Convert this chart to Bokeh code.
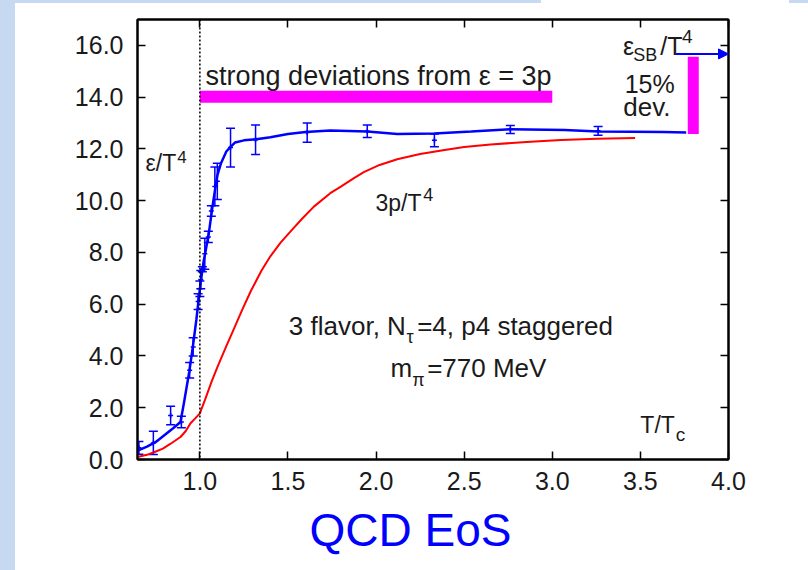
from bokeh.plotting import figure
from bokeh.models import (Range1d, FixedTicker, LinearAxis, PrintfTickFormatter, Whisker,
                          TeeHead, ColumnDataSource, Label, Span, Arrow, NormalHead, Spacer, Title)
from bokeh.layouts import row, column
from bokeh.embed import file_html
from bokeh.resources import INLINE

# ---------------- data ----------------
x_ticks = [1.0, 1.5, 2.0, 2.5, 3.0, 3.5, 4.0]
y_ticks = [0, 2, 4, 6, 8, 10, 12, 14, 16]

# lattice points eps/T^4 with errors
eps_pts_x = [0.654, 0.736, 0.834, 0.895, 0.942, 0.962, 0.990, 1.000, 1.005, 1.014, 1.028,
             1.048, 1.065, 1.085, 1.099, 1.174, 1.316, 1.609, 1.950, 2.331, 2.762, 3.260]
eps_pts_y = [0.45, 0.64, 1.70, 1.45, 3.45, 4.35, 6.10, 6.60, 6.95, 7.35, 7.95,
             8.60, 9.60, 10.55, 10.75, 12.05, 12.35, 12.63, 12.68, 12.33, 12.75, 12.70]
eps_pts_err = [0.25, 0.45, 0.36, 0.22, 0.30, 0.35, 0.30, 0.30, 0.35, 0.10, 0.60,
               0.22, 0.20, 0.75, 0.70, 0.75, 0.57, 0.37, 0.24, 0.25, 0.15, 0.17]

# interpolating curve eps/T^4
eps_curve_x = [0.65, 0.70, 0.75, 0.80, 0.85, 0.89, 0.91, 0.94, 0.96, 0.98, 1.00, 1.02, 1.05,
               1.07, 1.09, 1.10, 1.12, 1.15, 1.17, 1.20, 1.25, 1.32, 1.40, 1.50, 1.60, 1.74,
               1.95, 2.12, 2.33, 2.54, 2.76, 3.07, 3.26, 3.63, 3.76]
eps_curve_y = [0.35, 0.50, 0.68, 0.95, 1.22, 1.45, 2.20, 3.40, 4.35, 5.40, 6.60, 7.60, 8.70,
               9.70, 10.60, 11.00, 11.45, 11.90, 12.05, 12.25, 12.33, 12.37, 12.45, 12.58, 12.65,
               12.71, 12.67, 12.58, 12.60, 12.67, 12.76, 12.73, 12.67, 12.65, 12.63]

# 3p/T^4 curve
p3_x = [0.646, 0.70, 0.74, 0.79, 0.834, 0.89, 0.92, 0.947, 0.975, 1.00, 1.03, 1.066, 1.10,
        1.15, 1.19, 1.24, 1.29, 1.35, 1.40, 1.458, 1.52, 1.58, 1.647, 1.74, 1.80, 1.87, 1.93,
        2.02, 2.12, 2.25, 2.38, 2.50, 2.65, 2.876, 3.05, 3.254, 3.47]
p3_y = [0.10, 0.18, 0.28, 0.42, 0.61, 0.87, 1.10, 1.40, 1.60, 1.78, 2.32, 3.00, 3.58,
        4.38, 5.00, 5.78, 6.52, 7.30, 7.85, 8.38, 8.85, 9.30, 9.77, 10.29, 10.54, 10.85, 11.10,
        11.38, 11.60, 11.80, 11.95, 12.07, 12.17, 12.28, 12.34, 12.39, 12.42]

# annotation marks
dev_band_x = [1.0, 3.0]
dev_band_y = 14.02
sb_dev_x = 3.80
sb_dev_y = [12.58, 15.56]
sb_arrow_x = [3.70, 4.0]
sb_arrow_y = 15.67
tc_line = 1.0

FONT = "Liberation Sans"
BLUE = "#0000ff"
RED = "#ff0000"
MAG = "#ff00ff"
BG = "#c6d9f0"
INK = "#1a1a1a"

p = figure(width=793, height=567, x_range=Range1d(0.646, 4.0), y_range=Range1d(0, 17),
           output_backend="svg", toolbar_location=None,
           min_border_left=122, min_border_right=80, min_border_top=16, min_border_bottom=111)
p.background_fill_color = "white"
p.border_fill_color = "white"
p.grid.visible = False
p.outline_line_color = "black"
p.outline_line_width = 2

for ax in [p.xaxis[0], p.yaxis[0]]:
    ax.major_label_text_font = FONT
    ax.major_label_text_font_size = "25px"
    ax.major_label_text_color = INK
    ax.major_tick_in = 8
    ax.major_tick_out = 0
    ax.minor_tick_line_color = None
    ax.axis_line_width = 2
    ax.major_tick_line_width = 1.5
p.xaxis[0].ticker = FixedTicker(ticks=x_ticks)
p.yaxis[0].ticker = FixedTicker(ticks=y_ticks)
p.xaxis[0].formatter = PrintfTickFormatter(format="%.1f")
p.yaxis[0].formatter = PrintfTickFormatter(format="%.1f")
p.xaxis[0].major_label_standoff = 12
p.yaxis[0].major_label_standoff = 14

top_ax = LinearAxis(ticker=FixedTicker(ticks=x_ticks), major_label_text_color=None,
                    major_label_text_font_size="1px", major_tick_in=8, major_tick_out=0,
                    minor_tick_line_color=None, axis_line_width=2, major_tick_line_width=1.5)
right_ax = LinearAxis(ticker=FixedTicker(ticks=y_ticks), major_label_text_color=None,
                      major_label_text_font_size="1px", major_tick_in=8, major_tick_out=0,
                      minor_tick_line_color=None, axis_line_width=2, major_tick_line_width=1.5)
p.add_layout(top_ax, "above")
p.add_layout(right_ax, "right")

# title below the x axis
p.add_layout(Title(text="QCD EoS", align="left", offset=172, standoff=18,
                   text_font=FONT, text_font_size="46px", text_font_style="normal",
                   text_color=BLUE), "below")

# T_c dotted line
p.add_layout(Span(location=tc_line, dimension="height", line_color="black",
                  line_dash="2 2", line_width=1.5))

# curves
p.line(p3_x, p3_y, line_color=RED, line_width=2)
p.line(eps_curve_x, eps_curve_y, line_color=BLUE, line_width=2.5)

src = ColumnDataSource(dict(x=eps_pts_x, y=eps_pts_y,
                            lo=[a - b for a, b in zip(eps_pts_y, eps_pts_err)],
                            hi=[a + b for a, b in zip(eps_pts_y, eps_pts_err)]))
p.add_layout(Whisker(source=src, base="x", lower="lo", upper="hi", dimension="height",
                     line_color=BLUE, line_width=1.5,
                     upper_head=TeeHead(size=9, line_color=BLUE, line_width=1.5),
                     lower_head=TeeHead(size=9, line_color=BLUE, line_width=1.5)))
p.scatter("x", "y", source=src, marker="cross", size=5, line_color=BLUE, line_width=1.5)

# magenta deviation bars
p.segment(x0=[dev_band_x[0]], y0=[dev_band_y], x1=[dev_band_x[1]], y1=[dev_band_y],
          line_color=MAG, line_width=12, line_cap="butt")
p.segment(x0=[sb_dev_x], y0=[sb_dev_y[0]], x1=[sb_dev_x], y1=[sb_dev_y[1]],
          line_color=MAG, line_width=11, line_cap="butt")

# SB arrow
p.add_layout(Arrow(end=NormalHead(size=10, fill_color=BLUE, line_color=BLUE),
                   x_start=sb_arrow_x[0], y_start=sb_arrow_y, x_end=sb_arrow_x[1], y_end=sb_arrow_y,
                   line_color=BLUE, line_width=2))

# frame geometry (window pixels) used to place text annotations
X1_PX, PX_PER_X = 199.3, 176.3
Y0_PX, PX_PER_Y = 459.2, 25.85


def lab(px, py, text, size, color=INK):
    """px: left edge of text, py: baseline, both in window pixels."""
    x = 1.0 + (px - X1_PX) / PX_PER_X
    y = (Y0_PX - py + 0.36 * size) / PX_PER_Y
    p.add_layout(Label(x=x, y=y, text=text, text_font=FONT, text_font_size=f"{size}px",
                       text_color=color, text_align="left", text_baseline="alphabetic"))


lab(205, 85.5, "strong deviations from \u03b5 = 3p", 27)
lab(145, 171.7, "\u03b5/T", 23)
lab(176.7, 163.3, "4", 17)
lab(375, 211.7, "3p/T", 23)
lab(422.7, 200.7, "4", 18)
lab(288.3, 335, "3 flavor, N", 26)
lab(406, 343.5, "\u03c4", 18)
lab(416.7, 335, "=4, p4 staggered", 26)
lab(390, 377.5, "m", 26)
lab(411.7, 386.5, "\u03c0", 18)
lab(426.7, 377.5, "=770 MeV", 26)
lab(640, 433.3, "T/T", 23)
lab(675.5, 440.7, "c", 19)
lab(622.7, 55, "\u03b5", 25)
lab(633, 61.7, "SB", 18)
lab(660, 55, "/T", 25)
lab(681.7, 43.3, "4", 19)
lab(624.3, 92.7, "15%", 25)
lab(623, 116.7, "dev.", 26)

layout = column(
    row(Spacer(width=541, height=3, styles={"background-color": BG}),
        Spacer(width=248, height=3),
        Spacer(width=19, height=3, styles={"background-color": BG})),
    row(Spacer(width=15, height=567, styles={"background-color": BG}), p),
)

open("out.html", "w").write(file_html(layout, INLINE))
